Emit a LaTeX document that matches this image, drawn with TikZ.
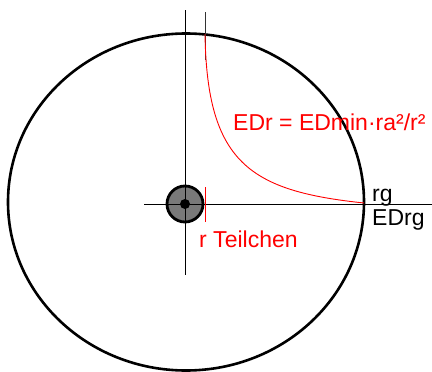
\documentclass[tikz,border=0pt]{standalone}
\usepackage{fontspec}
\setmainfont{Liberation Sans}
\begin{document}
\begin{tikzpicture}[x=1pt,y=-1pt,
  axis/.style={black,line width=1pt},
  redline/.style={red,line width=0.9pt},
  lbl/.style={inner sep=0pt,anchor=base west,font=\fontsize{23pt}{27pt}\selectfont},
  redlbl/.style={lbl,text=red}]
\useasboundingbox (0,0) rectangle (432,372);
% named points
\coordinate (O) at (185,204);
\coordinate (C) at (186,202);
\coordinate (vtop) at (185,10);
\coordinate (vbot) at (185,275);
\coordinate (hl) at (144,204);
\coordinate (hr) at (432,204);
\coordinate (rtop) at (205,12);
\coordinate (rmid) at (205,60);
\coordinate (cs) at (205,34);
\coordinate (ce) at (364,203);
\coordinate (tk1) at (205,187);
\coordinate (tk2) at (205,222);
% big circle
\draw[line width=2.6pt] (C) ellipse [x radius=178pt, y radius=168.5pt];
% particle
\fill[gray!95!black] (O) circle [radius=18pt];
\draw[line width=2.8pt] (O) circle [radius=18pt];
\fill (O) circle [radius=5pt];
% axes
\draw[axis] (vtop) -- (vbot);
\draw[axis] (hl) -- (hr);
\draw[black!80,line width=1pt] (rtop) -- (rmid);
% red curve and tick
\draw[redline] (cs) .. controls (207,163) and (250,191) .. (ce);
\draw[redline] (tk1) -- (tk2);
% labels
\node[redlbl] (eq) at (233,130) {EDr = EDmin·ra²/r²};
\node[redlbl] (rt) at (199,247) {r Teilchen};
\node[lbl] (rg) at (372,201) {rg};
\node[lbl] (edrg) at (372,225) {EDrg};
\end{tikzpicture}
\end{document}
